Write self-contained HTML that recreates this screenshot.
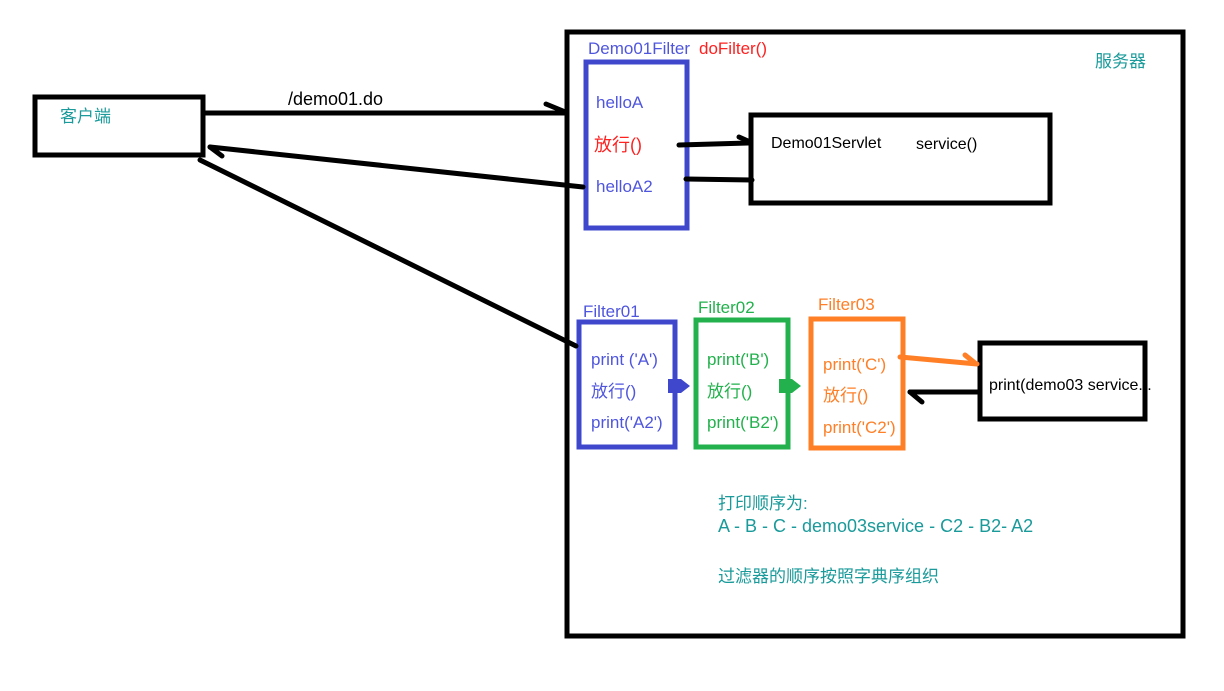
<!DOCTYPE html>
<html><head><meta charset="utf-8"><style>
body{margin:0;background:#fff;}
svg{display:block}
text{font-family:"Liberation Sans","Noto Sans CJK SC",sans-serif;font-size:17px}
</style></head><body>
<svg width="1224" height="691" viewBox="0 0 1224 691">
<g fill="none" stroke="#000" stroke-width="5">
<rect x="35" y="97" width="168" height="58"/>
<rect x="567" y="32" width="616" height="604"/>
<rect x="751" y="115" width="299" height="88"/>
<rect x="980" y="343" width="165" height="76"/>
</g>
<rect x="586" y="62" width="101" height="166" fill="none" stroke="#3f48cc" stroke-width="5"/>
<rect x="579" y="322" width="96" height="125" fill="none" stroke="#3f48cc" stroke-width="5"/>
<rect x="696" y="320" width="92" height="127" fill="none" stroke="#22b14c" stroke-width="5"/>
<rect x="811" y="319" width="92" height="129" fill="none" stroke="#ff7f27" stroke-width="5"/>
<g stroke="#000" stroke-width="5" fill="none" stroke-linecap="round">
<line x1="204" y1="113" x2="565" y2="113"/>
<polyline points="546,104 563,111"/>
<line x1="583" y1="187" x2="210" y2="147"/>
<polyline points="222,156 210,147"/>
<line x1="200" y1="160" x2="576" y2="346"/>
<line x1="679" y1="145" x2="748" y2="143"/>
<polyline points="739,137 748,141"/>
<line x1="752" y1="180" x2="686" y2="179"/>
<line x1="978" y1="392" x2="910" y2="392"/>
<polyline points="922,402 910,392"/>
</g>
<g stroke="#ff7f27" stroke-width="5" fill="none" stroke-linecap="round">
<line x1="900" y1="357" x2="977" y2="364"/>
<polyline points="965,355 975,363"/>
</g>
<path d="M668 379 h13 l9 7 -9 7 h-13z" fill="#3f48cc"/>
<path d="M779 379 h13 l9 7 -9 7 h-13z" fill="#22b14c"/>
<text x="288" y="105" fill="#000" style="font-size:18px">/demo01.do</text>
<text x="60" y="122" fill="#1a9a9a">客户端</text>
<text x="1095" y="67" fill="#1a9a9a">服务器</text>
<text x="588" y="54" fill="#4f56dd">Demo01Filter</text>
<text x="699" y="54" fill="#ff2020">doFilter()</text>
<text x="596" y="108" fill="#4f56dd">helloA</text>
<text x="594" y="151" fill="#ff2020" style="font-size:18px">放行()</text>
<text x="596" y="192" fill="#4f56dd">helloA2</text>
<text x="771" y="148" fill="#000" style="font-size:16px">Demo01Servlet</text>
<text x="916" y="149" fill="#000" style="font-size:16px">service()</text>
<text x="583" y="317" fill="#4f56dd">Filter01</text>
<text x="698" y="313" fill="#22b14c">Filter02</text>
<text x="818" y="310" fill="#ff7f27">Filter03</text>
<text x="591" y="365" fill="#4f56dd">print ('A')</text>
<text x="591" y="397" fill="#4f56dd">放行()</text>
<text x="591" y="428" fill="#4f56dd">print('A2')</text>
<text x="707" y="365" fill="#22b14c">print('B')</text>
<text x="707" y="397" fill="#22b14c">放行()</text>
<text x="707" y="428" fill="#22b14c">print('B2')</text>
<text x="823" y="370" fill="#ff7f27">print('C')</text>
<text x="823" y="401" fill="#ff7f27">放行()</text>
<text x="823" y="433" fill="#ff7f27">print('C2')</text>
<text x="989" y="390" fill="#000" style="font-size:16px">print(demo03 service...</text>
<text x="718" y="509" fill="#1a9a9a">打印顺序为:</text>
<text x="718" y="532" fill="#1a9a9a" style="font-size:18px">A - B - C - demo03service - C2 - B2- A2</text>
<text x="718" y="582" fill="#1a9a9a">过滤器的顺序按照字典序组织</text>
</svg>
</body></html>
